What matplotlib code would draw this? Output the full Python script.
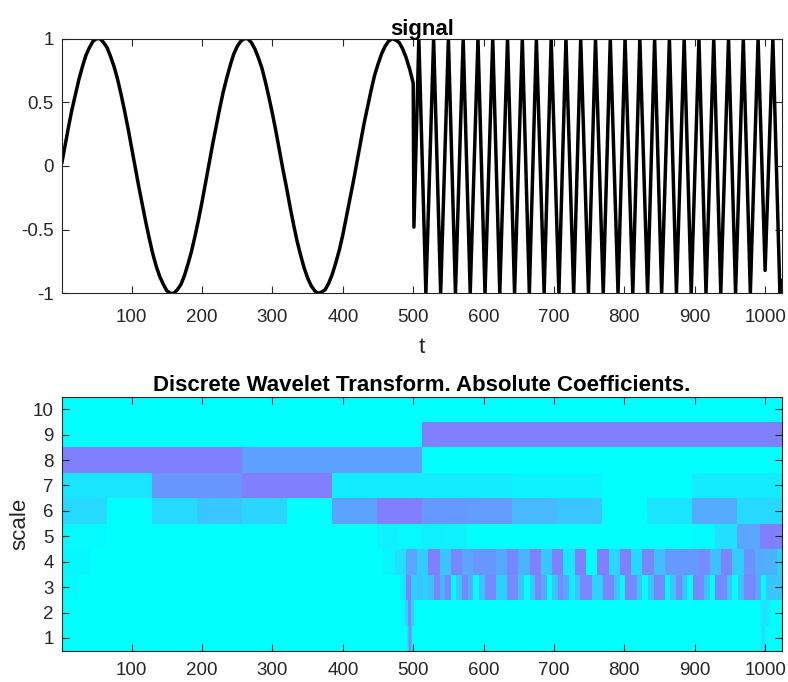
import numpy as np
import matplotlib
matplotlib.use('Agg')
import matplotlib.pyplot as plt
from matplotlib.colors import LinearSegmentedColormap

plt.rcParams['font.family'] = ['Liberation Sans', 'DejaVu Sans']

# ---- signal ----
# slow part, sampled every 5 points
lo_t = [1] + list(range(5, 501, 5))
lo_x = [0.03,
        0.15, 0.30, 0.44, 0.56, 0.68, 0.78, 0.87, 0.93, 0.98, 1.00,
        1.00, 0.97, 0.93, 0.86, 0.78, 0.68, 0.56, 0.43, 0.29, 0.14,
        -0.01, -0.16, -0.30, -0.44, -0.57, -0.69, -0.79, -0.87, -0.93, -0.98,
        -1.00, -1.00, -0.97, -0.93, -0.86, -0.77, -0.67, -0.55, -0.42, -0.28,
        -0.13, 0.02, 0.17, 0.31, 0.45, 0.58, 0.69, 0.79, 0.88, 0.94,
        0.98, 1.00, 1.00, 0.97, 0.92, 0.85, 0.77, 0.66, 0.54, 0.41,
        0.27, 0.12, -0.03, -0.17, -0.32, -0.46, -0.59, -0.70, -0.80, -0.88,
        -0.94, -0.98, -1.00, -0.99, -0.97, -0.92, -0.85, -0.76, -0.66, -0.54,
        -0.40, -0.26, -0.12, 0.03, 0.18, 0.33, 0.46, 0.59, 0.71, 0.80,
        0.88, 0.94, 0.98, 1.00, 0.99, 0.97, 0.92, 0.85, 0.76, 0.65]

# fast part: turning points
hi_t = [501, 508, 518, 529, 539, 550, 560, 571, 581, 592, 602, 613, 623,
        634, 644, 655, 665, 675, 686, 696, 707, 717, 728, 738, 749, 759,
        770, 780, 791, 801, 812, 822, 833, 843, 853, 864, 874, 885, 895,
        906, 916, 927, 937, 948, 958, 969, 979, 990, 1000, 1011, 1021, 1024]
hi_x = [-0.48, 1, -1, 1, -1, 1, -1, 1, -1, 1, -1, 1, -1,
        1, -1, 1, -1, 1, -1, 1, -1, 1, -1, 1, -1, 1,
        -1, 1, -1, 1, -1, 1, -1, 1, -1, 1, -1, 1, -1,
        1, -1, 1, -1, 1, -1, 1, -1, 1, -0.82, 1, -1, -0.9]

sig_xticks = [100, 200, 300, 400, 500, 600, 700, 800, 900, 1000]
sig_yticks = [-1, -0.5, 0, 0.5, 1]
sig_yticklabels = ['-1', '-0.5', '0', '0.5', '1']

# ---- |DWT coefficients|, relative (0 = cyan, 1 = purple) ----
row10 = [0]
row9 = [0, 1.0]
row8 = [1.0, 0.74, 0, 0]
row7 = [0.2, 0.82, 1.0, 0.15, 0.15, 0.1, 0, 0.15]
row6 = [0.3, 0, 0.3, 0.45, 0.33, 0, 0.72, 1.0,
        0.8, 0.78, 0.55, 0.45, 0, 0.2, 0.65, 0.3]
row5 = ([0.04, 0.04] + [0] * 12 + [0.1, 0.05, 0.12, 0.1] + [0] * 10
        + [0.03, 0.25, 0.7, 1.0])
row4 = ([0.06, 0.06, 0.06] + [0] * 26
        + [0.08, 0.25, 0.7, 0.4, 1.0, 0.45, 0.93, 0.7, 0.82, 0.82, 0.68, 0.93,
           0.6, 1.0, 0.45, 1.0, 0.2, 1.0, 0, 1.0, 0.33, 1.0, 0.3, 0.93,
           0.5, 0.8, 0.8, 0.8, 0.9, 0.5, 0.95, 0.4, 0.85, 0.65, 0.6, 0.35])
row3 = ([0.04] * 4 + [0] * 57
        + [0.15, 1.0, 0.35, 0.45, 0.35]
        + [0.5, 0.93, 0.6, 0.93, 0.02, 0.45, 0.93, 0.6, 0.05, 0.45, 0.93,
           0.93, 0.35, 0.35, 0.9, 0.9, 0.45, 0, 0.45, 0.95, 0.7, 0, 0.45,
           0.9, 0.7, 0.15, 0.45, 0.93, 0.93, 0.35, 0.35, 0.93, 0.93]
        + [0.45, 0.05, 0.95, 0.9, 0.45, 0, 0.45, 0.95, 0.9, 0.05, 0.45,
           0.93, 0.45, 0.05, 0.93, 0.9, 0.45, 0, 0.93, 0.9, 0.45, 0, 0.45,
           0.93, 0.93, 0.7, 0.05, 0.45, 0.45, 0.45])
row2 = ([0] * 121 + [0.1, 0.3, 1.0, 0.4, 0.1] + [0] * 122
        + [0.15, 0.25, 0.2, 0.1])
row1 = ([0] * 245 + [0.15, 0.5, 0.9, 0.5] + [0] * 248
        + [0.2, 0.3, 0.25, 0.1])

rows = [row1, row2, row3, row4, row5, row6, row7, row8, row9, row10]
row_shift = [0, 0, 7, 7, 0, 0, 0, 0, 0, 0]
dwt_yticks = [1, 2, 3, 4, 5, 6, 7, 8, 9, 10]

n = 1024
t = np.arange(1, n + 1)
grid = np.zeros((len(rows), n))
for j, (vals, s) in enumerate(zip(rows, row_shift), start=1):
    idx = (t - 1 + s) // 2 ** j
    v = np.zeros(idx.max() + 1)
    v[:len(vals)] = vals[:len(v)]
    grid[j - 1] = v[idx]

cmap = LinearSegmentedColormap.from_list('cyanblue', ['#00ffff', '#8080ff'])
axc = '#262626'


def style(ax, xpad):
    ax.tick_params(direction='in', length=5, width=0.8, colors=axc,
                   labelsize=13.5, top=True, right=True)
    ax.tick_params(axis='x', pad=xpad)
    ax.tick_params(axis='y', pad=6)
    for sp in ax.spines.values():
        sp.set_color(axc)
        sp.set_linewidth(0.8)


fig = plt.figure(figsize=(7.88, 6.82), dpi=100)

ax1 = fig.add_axes([0.0787, 0.5699, 0.9137, 0.3734])
ax1.plot(lo_t + hi_t, lo_x + hi_x, color='k', lw=2.5, solid_joinstyle='round')
ax1.set_xlim(1, n)
ax1.set_ylim(-1, 1)
ax1.set_xticks(sig_xticks)
ax1.set_yticks(sig_yticks)
ax1.set_yticklabels(sig_yticklabels)
ax1.set_title('signal', fontsize=16, fontweight='bold', pad=3)
ax1.set_xlabel('t', fontsize=16, color=axc, labelpad=8)
style(ax1, 11.5)

ax2 = fig.add_axes([0.0787, 0.046, 0.9137, 0.3726])
ax2.imshow(grid, cmap=cmap, vmin=0, vmax=1, origin='lower', aspect='auto',
           interpolation='nearest', extent=(0.5, n + 0.5, 0.5, 10.5))
ax2.set_xlim(1, n)
ax2.set_ylim(0.5, 10.5)
ax2.set_xticks(sig_xticks)
ax2.set_yticks(dwt_yticks)
ax2.set_title('Discrete Wavelet Transform. Absolute Coefficients.',
              fontsize=16, fontweight='bold', pad=4)
ax2.set_ylabel('scale', fontsize=16, color=axc, labelpad=2)
style(ax2, 8)

fig.savefig('out.png', dpi=100)
